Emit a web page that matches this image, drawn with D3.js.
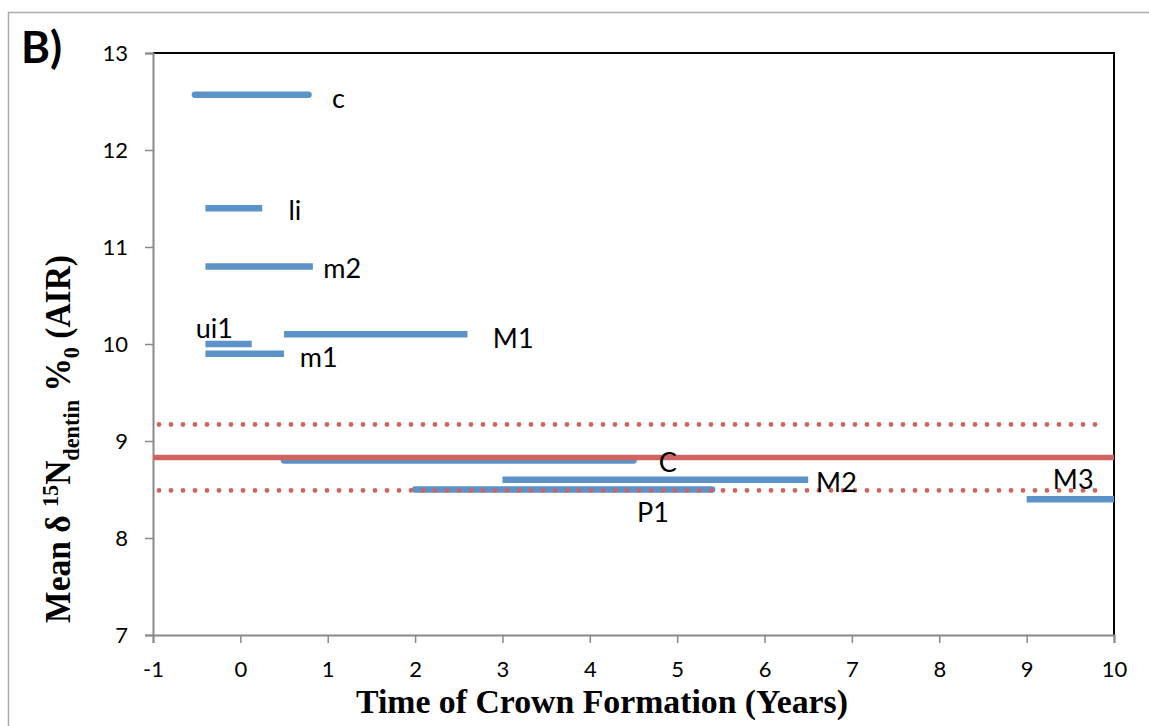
<!DOCTYPE html>
<html><head><meta charset="utf-8">
<script src="https://cdn.jsdelivr.net/npm/d3@7"></script>
<style>body{margin:0;background:#fff;} svg{display:block;}</style>
</head><body>
<svg id="chart" width="1149" height="726"></svg>
<script>
// ---- data ----
const teeth   = ["c", "li", "m2", "ui1", "m1", "M1", "C", "M2", "P1", "M3"];
const startYr = [-0.52, -0.4, -0.4, -0.4, -0.4, 0.5, 0.5, 3.0, 2.0, 9.0];
const endYr   = [0.78, 0.25, 0.83, 0.13, 0.5, 2.6, 4.5, 6.5, 5.4, 10.0];
const meanN   = [12.57, 11.4, 10.8, 10.0, 9.9, 10.1, 8.8, 8.6, 8.5, 8.4];
const labelX  = [1.05, 0.55, 0.95, -0.51, 0.68, 2.89, 4.79, 6.59, 4.54, 9.30];
const labelY  = [12.43, 11.28, 10.68, 10.06, 9.76, 9.96, 8.68, 8.47, 8.165, 8.51];
const popMean = [8.83];
const popBand = [9.17, 8.49];
const xTicks  = [-1, 0, 1, 2, 3, 4, 5, 6, 7, 8, 9, 10];
const yTicks  = [7, 8, 9, 10, 11, 12, 13];
const roundCapTeeth = ["c", "C", "P1"];

// ---- layout ----
const svg = d3.select("#chart");
const L = 153, R = 1114, T = 53, B = 635;
const x = d3.scaleLinear().domain([-1, 10]).range([L, R]);
const y = d3.scaleLinear().domain([7, 13]).range([B, T]);
const blue = "#5B93C9", red = "#D0635F", axisGray = "#898989";
const sans = "Lato, 'Open Sans', sans-serif";
const serif = "'Liberation Serif', 'DejaVu Serif', serif";

// outer frame
svg.append("rect").attr("x", 8.5).attr("y", 12.5).attr("width", 1200).attr("height", 800)
  .attr("fill", "none").attr("stroke", "#ABABAB").attr("stroke-width", 1.5);

// plot box top/right (black)
svg.append("path").attr("d", `M${L},${T}H${R}V${B}`).attr("fill", "none")
  .attr("stroke", "#000").attr("stroke-width", 2);

// axes
const yAxis = svg.append("g").attr("transform", `translate(${L},0)`)
  .call(d3.axisLeft(y).tickValues(yTicks).tickSize(8).tickPadding(17).tickFormat(d => String(d)));
const xAxis = svg.append("g").attr("transform", `translate(0,${B})`)
  .call(d3.axisBottom(x).tickValues(xTicks).tickSize(8).tickPadding(18).tickFormat(d => String(d)));
[xAxis, yAxis].forEach(g => {
  g.attr("font-size", null).attr("font-family", null);
  g.select(".domain").attr("stroke", axisGray).attr("stroke-width", 2);
  g.selectAll(".tick line").attr("stroke", axisGray).attr("stroke-width", 1.5);
  g.selectAll(".tick text").attr("fill", "#000").style("font-family", sans).style("font-size", "22px");
});
yAxis.selectAll(".tick text").attr("dy", "0.36em");

// blue segments
svg.append("g").selectAll("line").data(teeth).join("line")
  .attr("x1", (d, i) => x(startYr[i])).attr("x2", (d, i) => x(endYr[i]))
  .attr("y1", (d, i) => y(meanN[i])).attr("y2", (d, i) => y(meanN[i]))
  .attr("stroke", blue).attr("stroke-width", 6.5)
  .attr("stroke-linecap", d => roundCapTeeth.includes(d) ? "round" : "butt");

// red mean and band
svg.append("line").attr("x1", x(-1)).attr("x2", x(10))
  .attr("y1", y(popMean[0])).attr("y2", y(popMean[0]))
  .attr("stroke", red).attr("stroke-width", 5.5);
svg.append("g").selectAll("line").data(popBand).join("line")
  .attr("x1", x(-1) + 6).attr("x2", x(10) - 8)
  .attr("y1", d => y(d)).attr("y2", d => y(d))
  .attr("stroke", red).attr("stroke-width", 4.8)
  .attr("stroke-linecap", "round").attr("stroke-dasharray", "0 12");

// labels
svg.append("g").selectAll("text").data(teeth).join("text")
  .attr("x", (d, i) => x(labelX[i])).attr("y", (d, i) => y(labelY[i]))
  .style("font-family", sans).style("font-size", "27px").attr("fill", "#000")
  .text(d => d);

// panel letter
svg.append("text").attr("x", 21).attr("y", 63).text("B)")
  .style("font-family", sans).style("font-weight", "bold").style("font-size", "44px");

// x title
svg.append("text").attr("x", 602).attr("y", 713).attr("text-anchor", "middle")
  .attr("textLength", 492).attr("lengthAdjust", "spacingAndGlyphs")
  .style("font-family", serif).style("font-weight", "bold").style("font-size", "33px")
  .text("Time of Crown Formation (Years)");

// y title (rotated, horizontally condensed to reference length)
const ytg = svg.append("g");
const yt = ytg.append("text").attr("text-anchor", "middle")
  .style("font-family", serif).style("font-weight", "bold").style("font-size", "36px");
yt.append("tspan").text("Mean δ ");
yt.append("tspan").attr("dy", -12).style("font-size", "24px").text("15");
yt.append("tspan").attr("dy", 12).text("N");
yt.append("tspan").attr("dy", 9).style("font-size", "24px").text("dentin");
yt.append("tspan").attr("dy", -9).text(" %");
yt.append("tspan").attr("dy", 9).style("font-size", "24px").text("0");
yt.append("tspan").attr("dy", -9).text(" (AIR)");
const bb = yt.node().getBBox();
const sx = 368 / bb.width;
yt.attr("x", -(bb.x + bb.width / 2));
ytg.attr("transform", `translate(70,439) rotate(-90) scale(${sx},1)`);
</script>
</body></html>
